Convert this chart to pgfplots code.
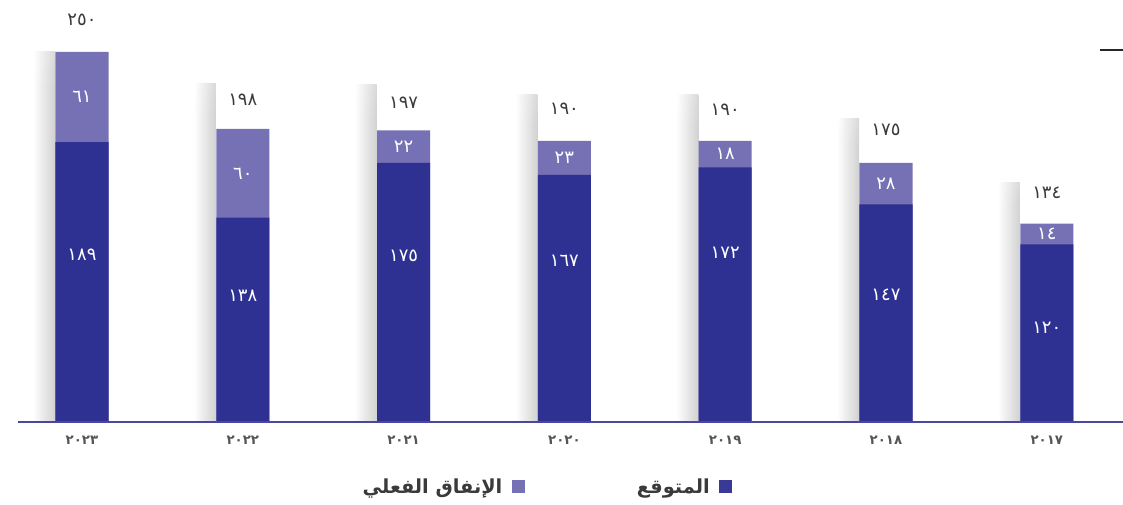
\documentclass[border=0pt]{standalone}
\usepackage{fontspec}
\setmainfont{DejaVu Sans}
\newfontfamily\arabicfont[Script=Arabic]{DejaVu Sans}
\usepackage{pgfplots}
\usepackage{pgfplotstable}
\usetikzlibrary{fadings}
\pgfplotsset{compat=1.18}
\TeXXeTstate=1
\definecolor{darkbar}{HTML}{2E3192}
\definecolor{lightbar}{HTML}{7670B4}
\definecolor{axisblue}{HTML}{4A47A3}
\definecolor{labgray}{HTML}{3A3A3A}
\definecolor{tickgray}{HTML}{555555}

\pgfdeclareverticalshading{topfadesh}{100bp}{color(0bp)=(white); color(70bp)=(white); color(100bp)=(black)}
\pgfdeclarefading{topfade}{\pgfuseshading{topfadesh}}

\pgfplotstableread{
x total lower shadow lowlab toplab totlab lowtxt toptxt tottxt
0 250 189 250 112.8 219.5 271.6 ١٨٩ ٦١ ٢٥٠
1 198 138 229 85.1 168.0 217.6 ١٣٨ ٦٠ ١٩٨
2 197 175 228 112.2 186.0 215.5 ١٧٥ ٢٢ ١٩٧
3 190 167 221 108.8 178.5 211.5 ١٦٧ ٢٣ ١٩٠
4 190 172 221 114.2 181.0 210.8 ١٧٢ ١٨ ١٩٠
5 175 147 205 85.8 161.0 197.3 ١٤٧ ٢٨ ١٧٥
6 134 120 162 63.5 127.0 154.7 ١٢٠ ١٤ ١٣٤
}\datatable

\begin{document}
\begin{tikzpicture}
\useasboundingbox (-13.5pt,-61.5pt) rectangle (828.75pt,316.5pt);
\begin{axis}[
  at={(0,0)}, anchor=south west,
  scale only axis,
  width=828.75pt, height=316.5pt,
  xmin=-0.398, xmax=6.474,
  ymin=0, ymax=285.1,
  axis on top,
  axis x line*=bottom,
  axis y line=none,
  x axis line style={draw=axisblue, line width=1.1pt, -},
  xtick={0,1,2,3,4,5,6},
  xticklabels={٢٠٢٣,٢٠٢٢,٢٠٢١,٢٠٢٠,٢٠١٩,٢٠١٨,٢٠١٧},
  major tick length=0pt,
  xticklabel style={font=\arabicfont\bfseries\fontsize{10}{12}\selectfont, text=tickgray, anchor=center, yshift=-13.5pt},
  clip=false,
  legend plot pos=right,
  legend style={at={(0.478,0)}, anchor=center, yshift=-48.75pt, draw=none, fill=none,
    legend columns=2, font=\arabicfont\bfseries\fontsize{14.5}{17}\selectfont, text=labgray,
    /tikz/every even column/.append style={column sep=82pt},
    /tikz/every odd column/.append style={column sep=5pt}},
]
% shadows, one per bar
\pgfplotsinvokeforeach{0,...,6}{
\addplot[ybar, bar width=0.137, bar shift=-0.236, draw=none, left color=white, right color=black!18,
  path fading=topfade, forget plot, restrict x to domain=#1:#1]
  table[x=x, y=shadow] {\datatable};
}
% actual spending (top segment, drawn as full bar)
\addplot[ybar, bar width=0.33, bar shift=0, draw=none, fill=lightbar,
  legend image code/.code={\fill[lightbar] (0pt,-4.7pt) rectangle (10pt,5pt);}]
  table[x=x, y=total] {\datatable};
\addlegendentry{\beginR الإنفاق الفعلي\endR}
% expected (bottom)
\addplot[ybar, bar width=0.33, bar shift=0, draw=none, fill=darkbar,
  legend image code/.code={\fill[darkbar!85!lightbar] (0pt,-4.7pt) rectangle (10pt,5pt);}]
  table[x=x, y=lower] {\datatable};
\addlegendentry{\beginR المتوقع\endR}
% labels
\addplot[draw=none, mark=none, forget plot, point meta=explicit symbolic,
  nodes near coords={\arabicfont\pgfplotspointmeta},
  nodes near coords style={anchor=center, text=white, font=\fontsize{13.5}{16}\selectfont}]
  table[x=x, y=lowlab, meta=lowtxt] {\datatable};
\addplot[draw=none, mark=none, forget plot, point meta=explicit symbolic,
  nodes near coords={\arabicfont\pgfplotspointmeta},
  nodes near coords style={anchor=center, text=white, font=\fontsize{13.5}{16}\selectfont}]
  table[x=x, y=toplab, meta=toptxt] {\datatable};
\addplot[draw=none, mark=none, forget plot, point meta=explicit symbolic,
  nodes near coords={\arabicfont\pgfplotspointmeta},
  nodes near coords style={anchor=center, text=labgray, font=\fontsize{13.5}{16}\selectfont}]
  table[x=x, y=totlab, meta=tottxt] {\datatable};
\end{axis}
\draw[line width=1.5pt, color=black!85] (811.5pt,279pt) -- (828.75pt,279pt);
\end{tikzpicture}
\end{document}
